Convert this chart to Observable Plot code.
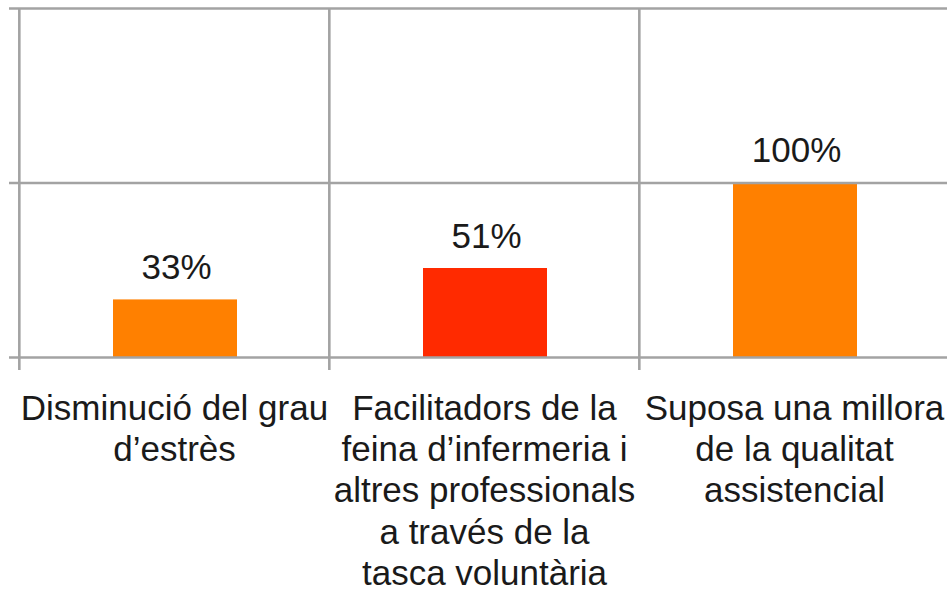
<!DOCTYPE html>
<html><head><meta charset="utf-8">
<script src="https://cdn.jsdelivr.net/npm/d3@7"></script>
<script src="https://cdn.jsdelivr.net/npm/@observablehq/plot@0.6"></script>
<style>html,body{margin:0;padding:0;background:#fff;overflow:hidden}</style>
</head><body><div id="chart"></div>
<script>
const categories = [
  "Disminució del grau\nd’estrès",
  "Facilitadors de la\nfeina d’infermeria i\naltres professionals\na través de la\ntasca voluntària",
  "Suposa una millora\nde la qualitat\nassistencial"
];
const values = [33, 51, 100];
const valueLabels = ["33%", "51%", "100%"];
const barColors = ["#ff8000", "#ff2a00", "#ff8000"];
const yTicks = [0, 100, 200];

const data = categories.map((c, i) => ({category: c, value: values[i], label: valueLabels[i], color: barColors[i]}));

const width = 947, height = 596;
const marginLeft = 18, marginRight = -2, marginTop = 8, marginBottom = 239;
const bw = (width - marginLeft - marginRight) / categories.length;
const gridColor = "#a3a3a3";
const font = "'Liberation Sans', Arial, Helvetica, sans-serif";

const chart = Plot.plot({
  width, height, marginLeft, marginRight, marginTop, marginBottom,
  style: {fontFamily: font, background: "#fff", color: "#1a1a1a"},
  x: {type: "band", domain: categories, padding: 0, axis: null},
  y: {domain: [0, 200], axis: null},
  color: {type: "identity"},
  marks: [
    Plot.barY(data, {x: "category", y: "value", fill: "color", insetLeft: 94, insetRight: 92}),
    Plot.ruleY(yTicks, {stroke: gridColor, strokeWidth: 2.6, insetLeft: -9}),
    Plot.ruleX(categories, {x: d => d, dx: -bw / 2, stroke: gridColor, strokeWidth: 2.6, insetBottom: -13}),
    Plot.text(data, {x: "category", y: "value", text: "label", fontSize: 35, lineAnchor: "bottom", dy: -21, dx: 2, fill: "#1a1a1a"}),
    Plot.text(data, {x: "category", y: () => 0, text: "category", fontSize: 35, lineHeight: 1.18, lineAnchor: "top", dy: 33, fill: "#1a1a1a"})
  ]
});
document.getElementById("chart").append(chart);
</script>
</body></html>
